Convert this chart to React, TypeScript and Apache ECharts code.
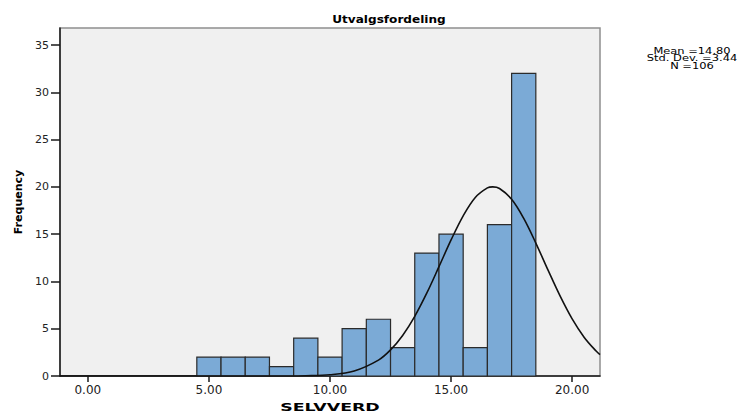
import React, { useEffect, useRef } from "react";
import * as echarts from "echarts";

// Histogram bins (centre of each bin) and their frequencies
const binCenters = [5, 6, 7, 8, 9, 10, 11, 12, 13, 14, 15, 16, 17, 18];
const frequencies = [2, 2, 2, 1, 4, 2, 5, 6, 3, 13, 15, 3, 16, 32];
const binWidth = 1;

// Normal curve
const curveX = [-1.15, 2, 5, 7, 8, 9, 10, 11, 12, 12.5, 13, 13.5, 14, 14.5, 15, 15.5, 16, 16.5, 16.72, 17, 17.5, 18, 18.5, 19, 19.5, 20, 20.5, 21, 21.15];
const curveY = [0, 0, 0, 0, 0.005, 0.03, 0.13, 0.53, 1.68, 2.76, 4.29, 6.31, 8.78, 11.56, 14.39, 16.94, 18.88, 19.89, 20, 19.83, 18.69, 16.67, 14.06, 11.22, 8.47, 6.04, 4.08, 2.61, 2.25];

const xTicks = [0, 5, 10, 15, 20];
const yTicks = [0, 5, 10, 15, 20, 25, 30, 35];
const xMin = -1.15;
const xMax = 21.15;
const yMax = 36.8;

const titleText = "Utvalgsfordeling";
const statsLines = ["Mean =14.80", "Std. Dev. =3.44", "N =106"];
const xName = "SELVVERD";
const yName = "Frequency";

const FONT = '"DejaVu Sans", "Liberation Sans", Arial, sans-serif';

export default function App() {
  const ref = useRef<HTMLDivElement>(null);

  useEffect(() => {
    if (!ref.current) return;
    const chart = echarts.init(ref.current, null, { renderer: "svg" });
    const barData = binCenters.map((c, i) => [c, frequencies[i]]);
    const lineData = curveX.map((x, i) => [x, curveY[i]]);

    chart.setOption({
      animation: false,
      backgroundColor: "#ffffff",
      grid: {
        left: 60,
        right: 145,
        top: 28,
        bottom: 36,
        show: true,
        backgroundColor: "#F0F0F0",
        borderColor: "#8E8E8E",
        borderWidth: 1.5,
      },
      xAxis: {
        type: "value",
        min: xMin,
        max: xMax,
        splitLine: { show: false },
        axisLine: { show: true, onZero: false, lineStyle: { color: "#1a1a1a", width: 1.5 } },
        axisTick: {
          show: true,
          customValues: xTicks,
          length: 6,
          lineStyle: { color: "#1a1a1a", width: 1.5 },
        },
        axisLabel: {
          customValues: xTicks,
          formatter: (v: number) => v.toFixed(2),
          fontFamily: FONT,
          fontSize: 12,
          color: "#222",
          margin: 8,
        },
      },
      yAxis: {
        type: "value",
        min: 0,
        max: yMax,
        splitLine: { show: false },
        axisLine: { show: true, onZero: false, lineStyle: { color: "#1a1a1a", width: 1.5 } },
        axisTick: {
          show: true,
          customValues: yTicks,
          length: 9,
          lineStyle: { color: "#1a1a1a", width: 1.5 },
        },
        axisLabel: {
          customValues: yTicks,
          fontFamily: FONT,
          fontSize: 11,
          color: "#222",
          margin: 11,
        },
        name: yName,
        nameLocation: "middle",
        nameGap: 35,
        nameTextStyle: {
          fontFamily: FONT,
          fontWeight: "bold",
          fontSize: 11,
          color: "#000",
        },
      },
      graphic: [
        {
          type: "text",
          x: 389,
          y: 19,
          scaleX: 1.1,
          style: {
            text: titleText,
            font: `bold 11px ${FONT}`,
            fill: "#000",
            align: "center",
            verticalAlign: "middle",
          },
        },
        {
          type: "text",
          x: 692,
          y: 58.5,
          scaleX: 1.35,
          style: {
            text: statsLines.join("\n"),
            font: `8.5px ${FONT}`,
            lineHeight: 7.8,
            fill: "#000",
            align: "center",
            verticalAlign: "middle",
          },
        },
        {
          type: "text",
          x: 330,
          y: 407,
          scaleX: 1.58,
          style: {
            text: xName,
            font: `bold 11px ${FONT}`,
            fill: "#000",
            align: "center",
            verticalAlign: "middle",
          },
        },
      ],
      series: [
        {
          type: "custom",
          data: barData,
          encode: { x: 0, y: 1 },
          renderItem: (params: any, api: any) => {
            const c = api.value(0);
            const v = api.value(1);
            const p0 = api.coord([c - binWidth / 2, v]);
            const p1 = api.coord([c + binWidth / 2, 0]);
            return {
              type: "rect",
              shape: { x: p0[0], y: p0[1], width: p1[0] - p0[0], height: p1[1] - p0[1] },
              style: { fill: "#7BAAD6", stroke: "#2B2B2B", lineWidth: 1.2 },
            };
          },
          z: 2,
        },
        {
          type: "line",
          data: lineData,
          smooth: 0.35,
          showSymbol: false,
          symbol: "none",
          lineStyle: { color: "#111", width: 1.6 },
          z: 3,
        },
      ],
    });

    return () => chart.dispose();
  }, []);

  return (
    <div
      ref={ref}
      style={{ position: "fixed", left: 0, top: 0, width: 745, height: 412 }}
    />
  );
}
